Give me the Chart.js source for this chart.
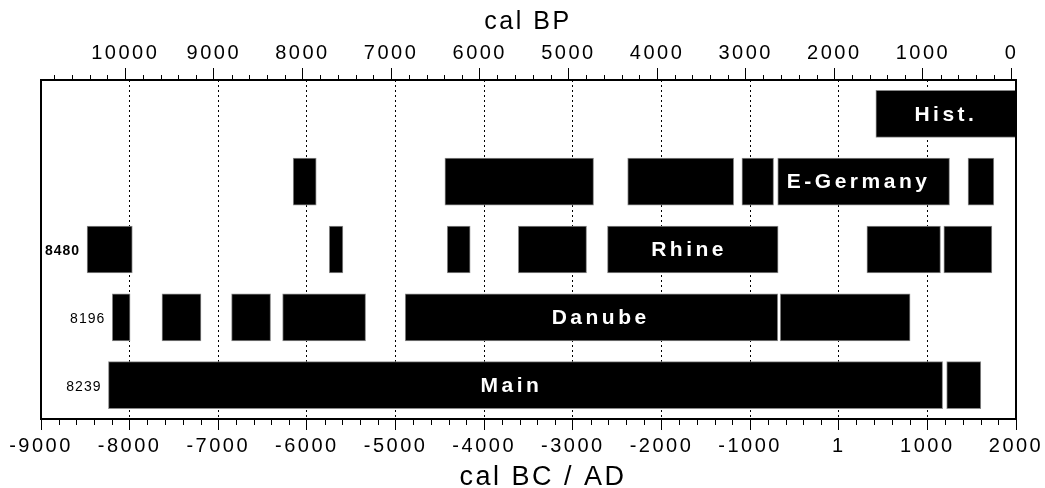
<!DOCTYPE html>
<html>
<head>
<meta charset="utf-8">
<script src="https://cdn.jsdelivr.net/npm/chart.js@4.4.1/dist/chart.umd.min.js"></script>
<style>
  html, body { margin: 0; padding: 0; background: #fff; }
  #contenedor { width: 1045px; height: 488px; }
</style>
</head>
<body>
<div id="contenedor"><canvas id="myChart"></canvas></div>
<script>
//Filas del grafico (de arriba hacia abajo)
const filas = ["Hist.", "E-Germany", "Rhine", "Danube", "Main"];

//Rangos de cada fila en cal BC / AD [inicio, fin]
const rangosHist = [[419, 2000]];
const rangosEGermany = [[-6155, -5895], [-4443, -2766], [-2381, -1185], [-1092, -735], [-688, 1250], [1459, 1750]];
const rangosRhine = [[-8480, -7970], [-5748, -5594], [-4417, -4158], [-3615, -2845], [-2609, -684], [318, 1148], [1186, 1728]];
const rangosDanube = [[-8196, -7995], [-7635, -7195], [-6850, -6410], [-6274, -5338], [-4891, -688], [-660, 805]];
const rangosMain = [[-8239, 1172], [1218, 1603]];

//Donde va el nombre dentro de la barra (año)
const posNombres = [1187, 202, -1711, -2708, -3715];

//Numeros a la izquierda de cada fila
const etiquetasInicio = ["", "", "8480", "8196", "8239"];

//Ticks de los ejes
const ticksBP = [10000, 9000, 8000, 7000, 6000, 5000, 4000, 3000, 2000, 1000, 0];
const ticksBCAD = [-9000, -8000, -7000, -6000, -5000, -4000, -3000, -2000, -1000, 0, 1000, 2000];

const todasFilas = [rangosHist, rangosEGermany, rangosRhine, rangosDanube, rangosMain];
const maxSeg = Math.max(...todasFilas.map((r) => r.length));

//un dataset por segmento, todos encimados en la misma fila
const datasets = [];
for (let i = 0; i < maxSeg; i++) {
  datasets.push({
    data: todasFilas.map((r) => (r[i] ? r[i] : null)),
    backgroundColor: "#000",
    borderColor: "#8a8a8a",
    borderWidth: 1,
    borderSkipped: false,
    grouped: false,
    barThickness: 47,
  });
}

//Plugin para titulos, ticks menores, marco y textos
const extras = {
  id: "extras",
  beforeDraw: (chart) => {
    chart.ctx.letterSpacing = "2.5px";
  },
  afterDatasetsDraw: (chart) => {
    const { ctx, scales } = chart;
    const x = scales.x;
    const y = scales.y;
    ctx.save();
    ctx.fillStyle = "#fff";
    ctx.font = "bold 21px 'Liberation Sans', Arial, sans-serif";
    ctx.letterSpacing = "3.5px";
    ctx.textAlign = "center";
    ctx.textBaseline = "middle";
    filas.forEach((nombre, i) => {
      ctx.fillText(nombre, x.getPixelForValue(posNombres[i]) + 2, y.getPixelForValue(i) + 1);
    });
    ctx.restore();
  },
  afterDraw: (chart) => {
    const { ctx, chartArea, scales } = chart;
    const x = scales.x;
    const y = scales.y;
    ctx.save();
    ctx.letterSpacing = "0px";
    ctx.strokeStyle = "#000";
    ctx.lineWidth = 1;
    //ticks menores cada 200 años
    ctx.beginPath();
    for (let v = -9000; v <= 2000; v += 200) {
      if (v % 1000 === 0) continue;
      const px = Math.round(x.getPixelForValue(v)) + 0.5;
      ctx.moveTo(px, chartArea.bottom);
      ctx.lineTo(px, chartArea.bottom + 6);
    }
    for (let bp = 0; bp <= 11000; bp += 200) {
      if (bp % 1000 === 0) continue;
      const v = 1950 - bp;
      if (v < -9000 || v > 2000) continue;
      const px = Math.round(x.getPixelForValue(v)) + 0.5;
      ctx.moveTo(px, chartArea.top);
      ctx.lineTo(px, chartArea.top - 5);
    }
    ctx.stroke();

    //marco
    ctx.lineWidth = 2;
    ctx.strokeRect(chartArea.left, chartArea.top, chartArea.right - chartArea.left, chartArea.bottom - chartArea.top);

    //titulos de los ejes
    ctx.fillStyle = "#000";
    ctx.textAlign = "center";
    ctx.textBaseline = "alphabetic";
    ctx.font = "25px 'Liberation Sans', Arial, sans-serif";
    ctx.letterSpacing = "2.5px";
    ctx.fillText("cal BP", 528, 29);
    ctx.font = "27px 'Liberation Sans', Arial, sans-serif";
    ctx.letterSpacing = "2.5px";
    ctx.fillText("cal BC / AD", 543, 485);

    //numeros de inicio a la izquierda
    ctx.textAlign = "right";
    ctx.textBaseline = "middle";
    ctx.letterSpacing = "1px";
    etiquetasInicio.forEach((t, i) => {
      if (!t) return;
      ctx.font = (i === 2 ? "bold " : "") + "14px 'Liberation Sans', Arial, sans-serif";
      const inicio = todasFilas[i][0][0];
      ctx.fillText(t, x.getPixelForValue(inicio) - 7, y.getPixelForValue(i) + 2);
    });
    ctx.restore();
  },
};

const config = {
  type: "bar",
  data: {
    labels: filas,
    datasets: datasets,
  },
  options: {
    indexAxis: "y",
    responsive: true,
    maintainAspectRatio: false,
    animation: false,
    layout: {
      padding: { left: 41, right: 29, top: 0, bottom: 0 },
    },
    plugins: {
      legend: { display: false },
      tooltip: { enabled: false },
    },
    scales: {
      y: {
        display: false,
        offset: true,
      },
      x: {
        type: "linear",
        position: "bottom",
        min: -9000,
        max: 2000,
        afterBuildTicks: (scale) => {
          scale.ticks = ticksBCAD.map((v) => ({ value: v }));
        },
        afterFit: (scale) => {
          scale.height = 69;
        },
        ticks: {
          color: "#000",
          padding: 4,
          maxRotation: 0,
          autoSkip: false,
          font: { family: "'Liberation Sans', Arial, sans-serif", size: 20 },
          callback: (value) => (value === 0 ? "1" : String(value)),
        },
        grid: {
          color: "#000",
          lineWidth: 1,
          drawOnChartArea: true,
          tickLength: 11,
        },
        border: {
          display: true,
          color: "#000",
          width: 2,
          dash: [2, 3],
        },
      },
      x2: {
        type: "linear",
        position: "top",
        min: -9000,
        max: 2000,
        afterBuildTicks: (scale) => {
          scale.ticks = ticksBP.map((bp) => ({ value: 1950 - bp }));
        },
        afterFit: (scale) => {
          scale.height = 80;
        },
        ticks: {
          color: "#000",
          padding: 3,
          maxRotation: 0,
          autoSkip: false,
          font: { family: "'Liberation Sans', Arial, sans-serif", size: 20 },
          callback: (value) => String(1950 - value),
        },
        grid: {
          color: "#000",
          lineWidth: 1,
          drawOnChartArea: false,
          tickLength: 12,
        },
        border: {
          display: true,
          color: "#000",
          width: 2,
        },
      },
    },
  },
  plugins: [extras],
};

const myChart = new Chart(document.getElementById("myChart"), config);
</script>
</body>
</html>
